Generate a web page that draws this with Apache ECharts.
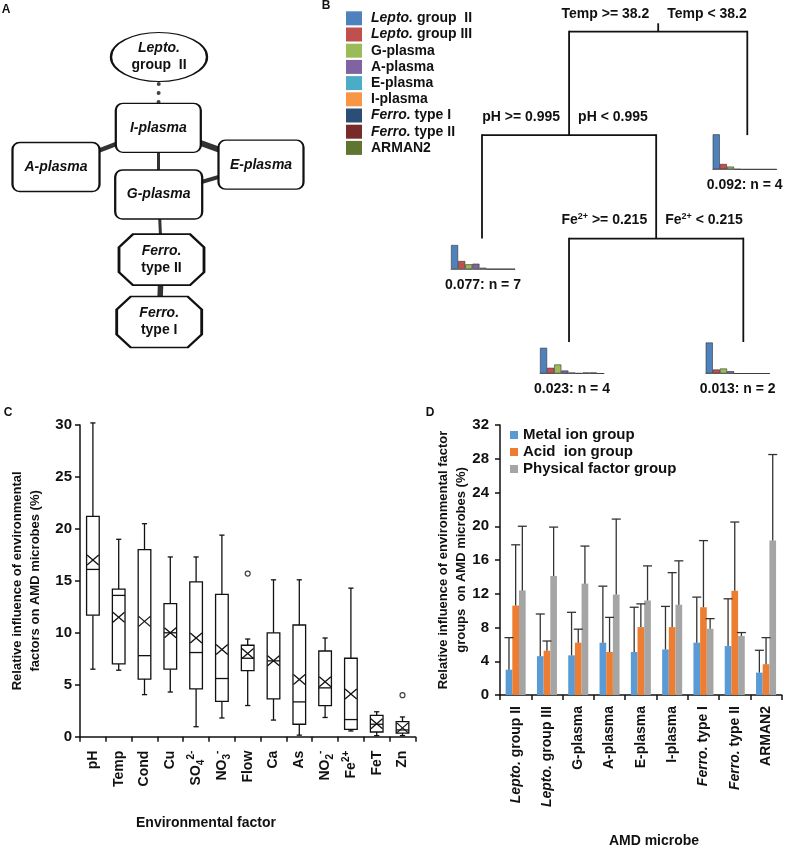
<!DOCTYPE html>
<html><head><meta charset="utf-8">
<script src="https://cdn.jsdelivr.net/npm/echarts@6/dist/echarts.min.js"></script>
<style>html,body{margin:0;padding:0;background:#fff;}#c{width:787px;height:847px;}</style>
</head><body><div id="c"></div>
<script>
// ================= DATA =================
// Panel A: co-occurrence network
const A_NODES = ['Lepto. group II','I-plasma','A-plasma','E-plasma','G-plasma','Ferro. type II','Ferro. type I'];
const A_LINK_SOURCE = ['Lepto. group II','I-plasma','I-plasma','I-plasma','G-plasma','G-plasma','Ferro. type II'];
const A_LINK_TARGET = ['I-plasma','A-plasma','E-plasma','G-plasma','E-plasma','Ferro. type II','Ferro. type I'];
const A_LINK_WEIGHT = [1, 4.5, 6, 3, 4, 3, 5.5];
const A_LINK_SIGN = [-1, 1, 1, 1, 1, 1, 1];

// Panel B: regression tree
const B_GROUPS = ['Lepto. group  II','Lepto. group III','G-plasma','A-plasma','E-plasma','I-plasma','Ferro. type I','Ferro. type II','ARMAN2'];
const B_SPLITS = [['Temp >= 38.2','Temp < 38.2'],['pH >= 0.995','pH < 0.995'],['Fe2+ >= 0.215','Fe2+ < 0.215']];
const B_LEAF_LABELS = ['0.077: n = 7','0.023: n = 4','0.013: n = 2','0.092: n = 4'];
const B_LEAF_077 = [0.48, 0.16, 0.094, 0.106, 0.026, 0, 0, 0, 0];
const B_LEAF_023 = [0.514, 0.114, 0.18, 0.06, 0.02, 0.006, 0.02, 0.02, 0];
const B_LEAF_013 = [0.62, 0.08, 0.10, 0.046, 0, 0, 0, 0, 0];
const B_LEAF_092 = [0.70, 0.106, 0.054, 0.006, 0, 0, 0, 0, 0];
const B_TREE = {s:0, l:{s:1, l:{leaf:0}, r:{s:2, l:{leaf:1}, r:{leaf:2}}}, r:{leaf:3}};

// Panel C: box plots
const C_FACTORS = ['pH','Temp','Cond','Cu','SO42-','NO3-','Flow','Ca','As','NO2-','Fe2+','FeT','Zn'];
const C_MIN  = [6.5, 6.4, 4.05, 4.3, 0.96, 1.8, 3.0, 1.6, 0.15, 1.85, 0.55, 0.1, 0.1];
const C_Q1   = [11.7, 7.0, 5.55, 6.5, 4.6, 3.4, 6.35, 3.65, 1.2, 3.0, 0.7, 0.45, 0.35];
const C_MED  = [16.1, 13.6, 7.8, 10.0, 8.1, 5.6, 7.55, 7.3, 3.35, 4.7, 1.65, 1.2, 0.65];
const C_Q3   = [21.2, 14.2, 18.0, 12.8, 14.9, 13.7, 8.8, 10.0, 10.75, 8.25, 7.55, 2.05, 1.45];
const C_MAX  = [30.2, 19.0, 20.5, 17.3, 17.3, 19.4, 9.4, 15.1, 15.1, 9.5, 14.3, 2.4, 1.9];
const C_MEAN = [17.0, 11.5, 11.1, 10.0, 9.5, 8.4, 8.0, 7.3, 5.5, 5.3, 4.1, 1.25, 0.85];
const C_OUTLIER_FACTOR = ['Flow','Zn'];
const C_OUTLIER_VALUE = [15.7, 4.0];
const C_TICKS = {min:0, max:30, step:5};

// Panel D: grouped bars with error bars
const D_MICROBES = ['Lepto. group II','Lepto. group III','G-plasma','A-plasma','E-plasma','I-plasma','Ferro. type I','Ferro. type II','ARMAN2'];
const D_SERIES = ['Metal ion group','Acid  ion group','Physical factor group'];
const D_METAL = [3.0, 4.6, 4.7, 6.2, 5.1, 5.4, 6.2, 5.8, 2.65];
const D_ACID  = [10.6, 5.25, 6.2, 5.1, 8.05, 8.05, 10.4, 12.35, 3.65];
const D_PHYS  = [12.4, 14.1, 13.2, 11.9, 11.2, 10.7, 7.85, 7.0, 18.3];
const D_METAL_SD = [3.8, 5.0, 5.1, 6.7, 5.3, 5.1, 5.4, 5.6, 2.65];
const D_ACID_SD  = [7.2, 1.15, 1.6, 4.1, 2.75, 6.45, 7.9, 8.15, 3.15];
const D_PHYS_SD  = [7.6, 5.8, 4.45, 8.95, 4.1, 5.2, 1.2, 0.4, 10.2];
const D_TICKS = {min:0, max:32, step:4};

// ================= STYLE / LAYOUT =================
const FONT = "'Liberation Sans', Arial, Helvetica, sans-serif";
const INK = '#111';
const B_COLORS = ['#4f81bd','#c0504d','#9bbb59','#8064a2','#4bacc6','#f79646','#2c4d75','#772c2a','#5f7530'];
const D_COLORS = ['#5b9bd5','#ed7d31','#a5a5a5'];
const SHAPES = {
  ellipse: 'path://M0,24.5 A48,24.5 0 1 1 96,24.5 A48,24.5 0 1 1 0,24.5 Z',
  box: 'path://M7,0 L78,0 A7,7 0 0 1 85,7 L85,42 A7,7 0 0 1 78,49 L7,49 A7,7 0 0 1 0,42 L0,7 A7,7 0 0 1 7,0 Z',
  octagon: 'path://M14,0 L71,0 L85,13 L85,38 L71,51 L14,51 L0,38 L0,13 Z'
};
const A_LAYOUT = {
  'Lepto. group II': {x:159, y:57, w:96, h:49, shape:'ellipse', label:'{bi|Lepto.}\n{b|group  II}'},
  'I-plasma': {x:158.3, y:127.8, w:85, h:49, shape:'box', label:'{bi|I-plasma}'},
  'A-plasma': {x:56, y:167, w:87, h:49, shape:'box', label:'{bi|A-plasma}'},
  'E-plasma': {x:261, y:164.7, w:85, h:49, shape:'box', label:'{bi|E-plasma}'},
  'G-plasma': {x:158.7, y:194.5, w:87, h:49, shape:'box', label:'{bi|G-plasma}'},
  'Ferro. type II': {x:161.5, y:259.7, w:85, h:51, shape:'octagon', label:'{bi|Ferro.}\n{b|type II}'},
  'Ferro. type I': {x:159.2, y:322, w:85, h:51, shape:'octagon', label:'{bi|Ferro.}\n{b|type I}'}
};
const B_LEAF_POS = [0, 0.328, 0.985, 1.0];
const B_HIST = [[451,269],[540,373.5],[705.7,373.5],[712.7,169.3]];
const GRID_C = {left:80, top:425, width:335.4, height:311.7};
const GRID_D = {left:500, top:425, width:281.7, height:270};
const GRID_TREE = {left:482, top:31.7, width:265.3, height:310.3};

// ================= BUILD =================
const chart = echarts.init(document.getElementById('c'), null, {renderer:'canvas'});

const xs = A_NODES.map(n => A_LAYOUT[n].x), ys = A_NODES.map(n => A_LAYOUT[n].y);
const aMinX = Math.min(...xs), aMaxX = Math.max(...xs), aMinY = Math.min(...ys), aMaxY = Math.max(...ys);

const graphSeries = {
  type:'graph', layout:'none', roam:false, silent:true, z:3,
  left:aMinX, top:aMinY, width:aMaxX-aMinX, height:aMaxY-aMinY,
  data: A_NODES.map(n => {
    const L = A_LAYOUT[n];
    return {name:n, x:L.x, y:L.y, symbol:SHAPES[L.shape], symbolSize:[L.w, L.h],
      itemStyle:{color:'#fff', borderColor:'#111', borderWidth: L.shape==='octagon'?2.2:1.7},
      label:{formatter:L.label}};
  }),
  links: A_LINK_SOURCE.map((s,i) => ({source:s, target:A_LINK_TARGET[i],
    lineStyle: A_LINK_SIGN[i] < 0
      ? {width:4, type:[0.1, 8.9], cap:'round', color:'#444', opacity:1}
      : {width:A_LINK_WEIGHT[i], color:'#333', opacity:1}})),
  label:{show:true, position:'inside', color:INK, fontFamily:FONT, fontSize:14, fontWeight:'bold', lineHeight:17,
    rich:{bi:{fontStyle:'italic', fontWeight:'bold', fontSize:14, fontFamily:FONT, color:INK, lineHeight:17},
          b:{fontWeight:'bold', fontSize:14, fontFamily:FONT, color:INK, lineHeight:17}}},
  lineStyle:{curveness:0},
  emphasis:{disabled:true}
};

// tree layout
const treeNodes = [];
function layoutTree(node, depth){
  if (node.leaf !== undefined) return B_LEAF_POS[node.leaf];
  const lx = layoutTree(node.l, depth+1), rx = layoutTree(node.r, depth+1);
  const x = (lx + rx)/2;
  treeNodes.push([x, depth, lx, rx, node.s]);
  return x;
}
layoutTree(B_TREE, 0);
const supText = s => s.replace('Fe2+', 'Fe{sup|2+}');
const treeSeries = {
  type:'custom', coordinateSystem:'cartesian2d', xAxisIndex:2, yAxisIndex:2, silent:true, clip:false,
  data: treeNodes,
  renderItem(params, api){
    const x = api.value(0), d = api.value(1), lx = api.value(2), rx = api.value(3), s = api.value(4);
    const p = api.coord([x,d]), pl = api.coord([lx,d]), pr = api.coord([rx,d]);
    const plE = api.coord([lx,d+1]), prE = api.coord([rx,d+1]);
    const ls = {stroke:'#111', lineWidth:1.8};
    const ch = [
      {type:'line', shape:{x1:pl[0], y1:p[1], x2:pr[0], y2:p[1]}, style:ls},
      {type:'line', shape:{x1:pl[0], y1:p[1]-0.9, x2:plE[0], y2:plE[1]}, style:ls},
      {type:'line', shape:{x1:pr[0], y1:p[1]-0.9, x2:prE[0], y2:prE[1]}, style:ls}
    ];
    if (d === 0) ch.push({type:'line', shape:{x1:p[0], y1:p[1], x2:p[0], y2:p[1]-8.4}, style:ls});
    const ts = {font:'bold 14px ' + FONT, fill:INK, verticalAlign:'middle', lineHeight:18,
      rich:{sup:{fontSize:9, fontWeight:'bold', fontFamily:FONT, fill:INK, verticalAlign:'top', lineHeight:9}}};
    ch.push({type:'text', x:p[0]-9, y:p[1]-18, style:Object.assign({text:supText(B_SPLITS[s][0]), align:'right'}, ts)});
    ch.push({type:'text', x:p[0]+9, y:p[1]-18, style:Object.assign({text:supText(B_SPLITS[s][1]), align:'left'}, ts)});
    return {type:'group', children:ch};
  }
};

const B_LEAVES = [B_LEAF_077, B_LEAF_023, B_LEAF_013, B_LEAF_092];
const leafGrids = B_HIST.map(h => ({left:h[0], top:h[1]-50, width:64, height:50, outerBoundsMode:'none'}));
const leafX = B_HIST.map((h,k) => ({type:'category', gridIndex:3+k, data:B_GROUPS, boundaryGap:true,
  axisLine:{show:true, lineStyle:{color:'#7f7f7f', width:1}}, axisTick:{show:false}, axisLabel:{show:false},
  name:B_LEAF_LABELS[k], nameLocation:'middle', nameGap:9, nameMoveOverlap:false,
  nameTextStyle:{fontFamily:FONT, fontSize:14, fontWeight:'bold', color:INK}}));
const leafY = B_HIST.map((h,k) => ({type:'value', gridIndex:3+k, min:0, max:1, show:false}));
const leafSeries = [];
B_LEAVES.forEach((vals,k) => {
  B_GROUPS.forEach((g,gi) => {
    leafSeries.push({type:'bar', name:g, xAxisIndex:3+k, yAxisIndex:3+k, stack:'leaf'+k, silent:true,
      barCategoryGap:'0%', barGap:'0%',
      itemStyle:{color:B_COLORS[gi], borderColor:'#333', borderWidth:0.6},
      data: B_GROUPS.map((_,j) => j===gi ? vals[j] : '-')});
  });
});

// Panel C
const C_TEX = {'SO42-':'SO{sub|4}{sup|2-}', 'NO3-':'NO{sub|3}{sup|-}', 'NO2-':'NO{sub|2}{sup|-}', 'Fe2+':'Fe{sup|2+}'};
const boxSeries = {
  type:'custom', xAxisIndex:0, yAxisIndex:0, silent:true, clip:false,
  encode:{x:0, y:[1,2,3,4,5,6]},
  data: C_FACTORS.map((f,i) => [i, C_MIN[i], C_Q1[i], C_MED[i], C_Q3[i], C_MAX[i], C_MEAN[i]]),
  renderItem(params, api){
    const i = api.value(0);
    const cw = api.size([1,0])[0];
    const bw = cw*0.49, cap = 2.6;
    const X = api.coord([i, 0])[0];
    const y = k => api.coord([i, api.value(k)])[1];
    const yMin=y(1), yQ1=y(2), yMed=y(3), yQ3=y(4), yMax=y(5), yMean=y(6);
    const st = {stroke:'#111', lineWidth:1.3, fill:null};
    const xw = bw/2 - 0.5, xh = 5;
    return {type:'group', children:[
      {type:'line', shape:{x1:X, y1:yQ3, x2:X, y2:yMax}, style:st},
      {type:'line', shape:{x1:X-cap, y1:yMax, x2:X+cap, y2:yMax}, style:st},
      {type:'line', shape:{x1:X, y1:yQ1, x2:X, y2:yMin}, style:st},
      {type:'line', shape:{x1:X-cap, y1:yMin, x2:X+cap, y2:yMin}, style:st},
      {type:'rect', shape:{x:X-bw/2, y:yQ3, width:bw, height:yQ1-yQ3}, style:{stroke:'#111', lineWidth:1.3, fill:'#fff'}},
      {type:'line', shape:{x1:X-bw/2, y1:yMed, x2:X+bw/2, y2:yMed}, style:st},
      {type:'line', shape:{x1:X-xw, y1:yMean-xh, x2:X+xw, y2:yMean+xh}, style:st},
      {type:'line', shape:{x1:X-xw, y1:yMean+xh, x2:X+xw, y2:yMean-xh}, style:st}
    ]};
  }
};
const outlierSeries = {type:'scatter', xAxisIndex:0, yAxisIndex:0, silent:true, symbol:'circle', symbolSize:5,
  itemStyle:{color:'#fff', borderColor:'#111', borderWidth:1.2},
  data: C_OUTLIER_FACTOR.map((f,i) => [f, C_OUTLIER_VALUE[i]])};

// Panel D
const D_VALUES = [D_METAL, D_ACID, D_PHYS];
const D_SDS = [D_METAL_SD, D_ACID_SD, D_PHYS_SD];
const D_GAP = 0.36;
const dBars = D_SERIES.map((n,s) => ({type:'bar', name:n, xAxisIndex:1, yAxisIndex:1, silent:true,
  barGap:'0%', barCategoryGap:(D_GAP*100)+'%', itemStyle:{color:D_COLORS[s]}, data:D_VALUES[s]}));
const errData = [];
D_VALUES.forEach((vals,s) => vals.forEach((v,i) => errData.push([i, v, D_SDS[s][i], s])));
const errSeries = {type:'custom', xAxisIndex:1, yAxisIndex:1, silent:true, clip:false, z:5,
  encode:{x:0, y:1}, data:errData,
  renderItem(params, api){
    const i=api.value(0), v=api.value(1), sd=api.value(2), s=api.value(3);
    const cw = api.size([1,0])[0];
    const bw = cw*(1-D_GAP)/3;
    const base = api.coord([i, v]);
    const top = api.coord([i, v+sd]);
    const X = base[0] + (s-1)*bw;
    const st = {stroke:'#333', lineWidth:1.3};
    return {type:'group', children:[
      {type:'line', shape:{x1:X, y1:base[1], x2:X, y2:top[1]}, style:st},
      {type:'line', shape:{x1:X-4.5, y1:top[1], x2:X+4.5, y2:top[1]}, style:st}
    ]};
  }};

const axisBase = {axisLine:{show:true, lineStyle:{color:'#111', width:1.5}},
  axisTick:{show:true, length:5, lineStyle:{color:'#111', width:1.5}}, splitLine:{show:false}};
const nameStyle = {fontFamily:FONT, fontSize:13, fontWeight:'bold', color:INK, lineHeight:18};

const option = {
  animation:false,
  backgroundColor:'#fff',
  textStyle:{fontFamily:FONT, color:INK},
  grid:[Object.assign({outerBoundsMode:'none'}, GRID_C), Object.assign({outerBoundsMode:'none'}, GRID_D),
        Object.assign({outerBoundsMode:'none'}, GRID_TREE)].concat(leafGrids),
  legend:[
    {data:B_GROUPS, orient:'vertical', left:346, top:11.3, padding:0, itemWidth:16, itemHeight:14, itemGap:2.2,
     icon:'rect', selectedMode:false, itemStyle:{borderWidth:0},
     formatter: n => {
       const m = n.match(/^(Lepto\.|Ferro\.)(.*)$/);
       return '{sp| }' + (m ? '{i|' + m[1] + '}{b|' + m[2] + '}' : '{b|' + n + '}');
     },
     textStyle:{fontFamily:FONT, fontSize:14, fontWeight:'bold', color:INK, lineHeight:14,
       rich:{sp:{width:4, fontSize:14, lineHeight:14},
             i:{fontStyle:'italic', fontWeight:'bold', fontSize:14, fontFamily:FONT, color:INK, lineHeight:14},
             b:{fontWeight:'bold', fontSize:14, fontFamily:FONT, color:INK, lineHeight:14}}}},
    {data:D_SERIES, orient:'vertical', left:510, top:426.5, padding:0, itemWidth:8, itemHeight:8, itemGap:0,
     icon:'rect', selectedMode:false, itemStyle:{borderWidth:0},
     textStyle:{fontFamily:FONT, fontSize:15, fontWeight:'bold', color:INK, lineHeight:17}}
  ],
  xAxis:[
    Object.assign({type:'category', gridIndex:0, data:C_FACTORS, boundaryGap:true,
      axisLabel:{interval:0, rotate:90, margin:14, fontSize:14, fontWeight:'bold', color:INK, fontFamily:FONT, lineHeight:20,
        formatter: v => C_TEX[v] || v,
        rich:{sub:{fontSize:10, fontWeight:'bold', fontFamily:FONT, color:INK, verticalAlign:'bottom', lineHeight:10},
              sup:{fontSize:10, fontWeight:'bold', fontFamily:FONT, color:INK, verticalAlign:'top', lineHeight:10}}}}, axisBase,
      {axisTick:{show:true, length:5, alignWithLabel:false, lineStyle:{color:'#111', width:1.5}}}),
    Object.assign({type:'category', gridIndex:1, data:D_MICROBES, boundaryGap:true,
      axisLabel:{interval:0, rotate:90, margin:11, fontSize:14, fontWeight:'bold', color:INK, fontFamily:FONT,
        formatter: v => v.replace(/^(Lepto\.|Ferro\.)/, '{i|$1}'),
        rich:{i:{fontStyle:'italic', fontWeight:'bold', fontSize:14, fontFamily:FONT, color:INK}}}}, axisBase),
    {type:'value', gridIndex:2, min:0, max:1, show:false},
  ].concat(leafX),
  yAxis:[
    Object.assign({type:'value', gridIndex:0, min:C_TICKS.min, max:C_TICKS.max, interval:C_TICKS.step,
      axisLabel:{margin:8, fontSize:15, fontWeight:'bold', color:INK, fontFamily:FONT},
      name:'Relative influence of environmental\nfactors on AMD microbes (%)', nameLocation:'middle', nameGap:36,
      nameMoveOverlap:false, nameTextStyle:nameStyle}, axisBase),
    Object.assign({type:'value', gridIndex:1, min:D_TICKS.min, max:D_TICKS.max, interval:D_TICKS.step,
      axisLabel:{margin:11, fontSize:15, fontWeight:'bold', color:INK, fontFamily:FONT},
      name:'Relative influence of environmental factor\ngroups  on AMD microbes (%)', nameLocation:'middle', nameGap:30,
      nameMoveOverlap:false, nameTextStyle:nameStyle}, axisBase),
    {type:'value', gridIndex:2, min:0, max:3, inverse:true, show:false}
  ].concat(leafY),
  graphic:[
    {type:'text', x:6, y:10, style:{text:'A', font:'bold 12px '+FONT, fill:INK, align:'center', verticalAlign:'middle'}},
    {type:'text', x:326, y:6, style:{text:'B', font:'bold 12px '+FONT, fill:INK, align:'center', verticalAlign:'middle'}},
    {type:'text', x:8, y:413, style:{text:'C', font:'bold 12px '+FONT, fill:INK, align:'center', verticalAlign:'middle'}},
    {type:'text', x:430, y:413, style:{text:'D', font:'bold 12px '+FONT, fill:INK, align:'center', verticalAlign:'middle'}},
    {type:'text', x:206, y:822.7, style:{text:'Environmental factor', font:'bold 14px '+FONT, fill:INK, align:'center', verticalAlign:'middle'}},
    {type:'text', x:654, y:841.5, style:{text:'AMD microbe', font:'bold 14px '+FONT, fill:INK, align:'center', verticalAlign:'middle'}}
  ],
  series:[graphSeries, treeSeries].concat(leafSeries, [boxSeries, outlierSeries], dBars, [errSeries])
};
chart.setOption(option);
</script>
</body></html>
